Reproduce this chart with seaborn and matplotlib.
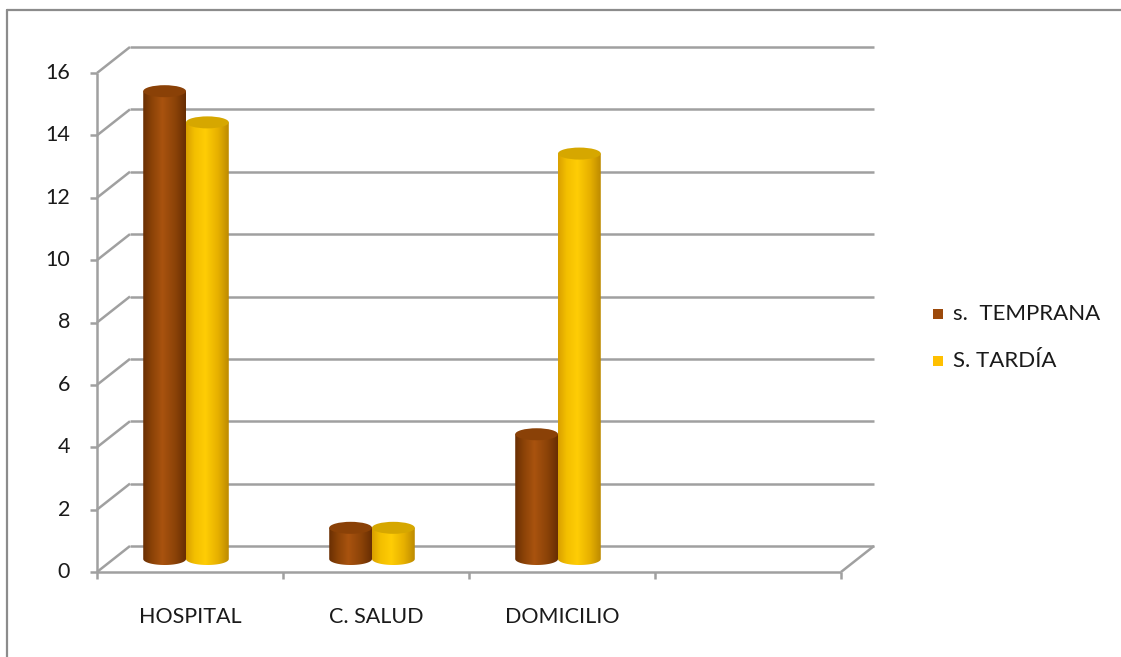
import numpy as np
import pandas as pd
import matplotlib
matplotlib.use("Agg")
import matplotlib.pyplot as plt
from matplotlib.patches import Ellipse, Rectangle, PathPatch
from matplotlib.path import Path
from matplotlib.colors import to_rgb
from matplotlib.lines import Line2D
import seaborn as sns

# ---- data ----
lugares = ["HOSPITAL", "C. SALUD", "DOMICILIO"]
series = ["s.  TEMPRANA", "S. TARDÍA"]
temprana = [15, 1, 4]
tardia = [14, 1, 13]
y_ticks = [0, 2, 4, 6, 8, 10, 12, 14, 16]
n_slots = 4  # the category axis keeps one empty slot on the right

# ---- styling ----
side_colors = {
    series[0]: ["#6a2f03", "#8a4207", "#a9530f", "#8c4308", "#682e03"],
    series[1]: ["#d9a000", "#f3bf00", "#ffcd05", "#e6b000", "#bd8a00"],
}
top_colors = {series[0]: "#8a4107", series[1]: "#d6a700"}
legend_colors = {series[0]: "#9c4a0b", series[1]: "#ffc000"}
grid_color = "#a0a0a0"
frame_color = "#8c8c8c"
text_color = "#1a1a1a"

sns.set_theme(style="white")
plt.rcParams["font.family"] = ["Lato", "DejaVu Sans"]

W, H = 1121, 657
fig = plt.figure(figsize=(W / 100, H / 100), dpi=100)
fig.patch.set_facecolor("white")


def px_box(x0, y0, x1, y1):
    return [x0 / W, 1 - y1 / H, (x1 - x0) / W, (y1 - y0) / H]


# axes = the mid-depth plane where the cylinders stand
ax_l, ax_t, ax_r, ax_b = 93, 60, 837, 559
ax = fig.add_axes(px_box(ax_l, ax_t, ax_r, ax_b))
xlim = (-0.5, n_slots - 0.5)
ylim = (0, 16)
px_x = (ax_r - ax_l) / (xlim[1] - xlim[0])
px_y = (ax_b - ax_t) / (ylim[1] - ylim[0])

df = pd.DataFrame({
    "lugar": lugares * 2,
    "serie": [series[0]] * len(lugares) + [series[1]] * len(lugares),
    "casos": temprana + tardia,
})
sns.barplot(data=df, x="lugar", y="casos", hue="serie", order=lugares,
            hue_order=series, palette=legend_colors, width=0.46,
            saturation=1, legend=False, ax=ax)


# depth offsets (in pixels) of the front and back planes
FRONT = (4, -13)
BACK = (37, 13)


def plane(x, y, off):
    return x + off[0] / px_x, y + off[1] / px_y


line_kw = dict(color=grid_color, lw=1.8, clip_on=False, zorder=1,
               solid_capstyle="butt")

# back wall gridlines and left wall diagonals
for v in y_ticks:
    bx0, by = plane(xlim[0], v, BACK)
    bx1, _ = plane(xlim[1], v, BACK)
    ax.plot([bx0, bx1], [by, by], **line_kw)
    fx, fy = plane(xlim[0], v, FRONT)
    ax.plot([fx, bx0], [fy, by], **line_kw)

# floor: front edge and right diagonal
fx0, fy0 = plane(xlim[0], 0, FRONT)
fx1, _ = plane(xlim[1], 0, FRONT)
ax.plot([fx0, fx1], [fy0, fy0], **line_kw)
bx1, by0 = plane(xlim[1], 0, BACK)
ax.plot([fx1, bx1], [fy0, by0], **line_kw)

# value axis
top_x, top_y = plane(xlim[0], ylim[1], FRONT)
ax.plot([fx0, top_x], [fy0, top_y], **line_kw)
for v in y_ticks:
    tx, ty = plane(xlim[0], v, FRONT)
    ax.plot([tx - 7 / px_x, tx], [ty, ty], **line_kw)
    ax.text(tx - 27 / px_x, ty, f"{v}", ha="right", va="center",
            fontsize=15.5, color=text_color, clip_on=False)

# category axis
for k in range(n_slots + 1):
    tx, ty = plane(k - 0.5, 0, FRONT)
    ax.plot([tx, tx], [ty, ty - 7 / px_y], **line_kw)
for i, name in enumerate(lugares):
    tx, ty = plane(i, 0, FRONT)
    ax.text(tx, ty - 45 / px_y, name, ha="center", va="center",
            fontsize=15.5, color=text_color, clip_on=False)

# turn the flat bars into shaded cylinders
ell_h = 12 / px_y
bars = list(ax.patches)
bar_series = [s for s in series for _ in lugares]
for patch, serie in zip(bars, bar_series):
    x0 = patch.get_x()
    w = patch.get_width()
    h = patch.get_height()
    patch.set_visible(False)
    xc = x0 + w / 2

    t = np.linspace(np.pi, 2 * np.pi, 40)
    arc = np.column_stack([xc + w / 2 * np.cos(t), ell_h / 2 * np.sin(t)])
    verts = np.vstack([[x0, h], [x0, 0], arc, [x0 + w, h], [x0, h]])
    codes = [Path.MOVETO] + [Path.LINETO] * (len(verts) - 2) + [Path.CLOSEPOLY]
    clip = PathPatch(Path(verts, codes), transform=ax.transData)

    stops = np.array([to_rgb(c) for c in side_colors[serie]])
    pos = np.array([0.0, 0.2, 0.45, 0.75, 1.0])
    xs = np.linspace(0, 1, 120)
    grad = np.stack([np.interp(xs, pos, stops[:, c]) for c in range(3)], axis=-1)
    im = ax.imshow(grad[None, :, :], extent=[x0, x0 + w, -ell_h / 2, h],
                   aspect="auto", interpolation="bilinear", zorder=3,
                   origin="lower")
    im.set_clip_box(fig.bbox)
    im.set_clip_path(clip)

    ax.add_patch(Ellipse((xc, h), w, ell_h, facecolor=top_colors[serie],
                         edgecolor="none", zorder=4, clip_on=False))

ax.set_aspect("auto")
ax.set_xlim(*xlim)
ax.set_ylim(*ylim)
ax.axis("off")

# legend
for j, serie in enumerate(series):
    cy = 314 + 47 * j
    fig.add_artist(Rectangle((933 / W, 1 - (cy + 5) / H), 10 / W, 10 / H,
                             transform=fig.transFigure,
                             facecolor=legend_colors[serie], edgecolor="none"))
    fig.text(953 / W, 1 - cy / H, serie, ha="left", va="center",
             fontsize=16, color=text_color)

# outer frame (left and top edges)
fig.add_artist(Line2D([7 / W, 7 / W], [0, 1 - 10 / H], color=frame_color,
                      lw=1.6, transform=fig.transFigure))
fig.add_artist(Line2D([7 / W, 1], [1 - 10 / H, 1 - 10 / H], color=frame_color,
                      lw=1.6, transform=fig.transFigure))

fig.savefig("out.png", dpi=100, facecolor="white")
